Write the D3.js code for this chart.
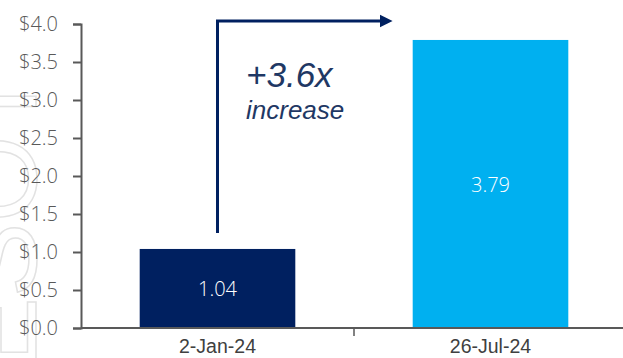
<!DOCTYPE html>
<head>
    <title>Increase chart</title>
    <script src='https://d3js.org/d3.v7.min.js'></script>
</head>
<style>
body {
  margin: 0;
  font-family: 'Liberation Sans', Arial, sans-serif;
}
</style>
<body>
    <svg></svg>
</body>
<script>
    var vWidth = 623;
    var vHeight = 358;

    // data
    var categories = ['2-Jan-24', '26-Jul-24'];
    var values = [1.04, 3.79];
    var barColors = ['#002060', '#00b0f0'];
    var yTicks = [0, 0.5, 1, 1.5, 2, 2.5, 3, 3.5, 4];
    var callout = ['+3.6x', 'increase'];

    var svg = d3.select('svg')
        .attr('width', vWidth)
        .attr('height', vHeight);

    // faint watermark in the left margin
    svg.append('text')
        .attr('transform', 'translate(36,372)rotate(-90)')
        .style('font-size', '112px')
        .style('fill', 'none')
        .style('stroke', '#e2e2e2')
        .style('stroke-width', 1.5)
        .text('ESOT');

    var x = d3.scaleBand()
        .domain(categories)
        .range([81, 627])
        .paddingInner(0.43)
        .paddingOuter(0.215);

    var y = d3.scaleLinear()
        .domain([0, 4])
        .range([328, 24]);

    // y axis
    var yAxis = svg.append('g')
        .attr('transform', 'translate(81,0)')
        .call(d3.axisLeft(y).tickValues(yTicks).tickSize(8).tickPadding(15)
            .tickFormat(function (d) { return '$' + d3.format('.1f')(d); }));
    yAxis.select('.domain').attr('stroke', '#595959').attr('stroke-width', 2);
    yAxis.selectAll('.tick line').attr('stroke', '#595959').attr('stroke-width', 2);
    yAxis.selectAll('.tick text')
        .attr('fill', '#595959')
        .style('font-family', "'Open Sans', sans-serif")
        .style('font-weight', 300)
        .style('font-size', '20px');

    // bars
    svg.selectAll('rect.bar').data(values).enter().append('rect')
        .attr('class', 'bar')
        .attr('x', function (d, i) { return x(categories[i]); })
        .attr('y', function (d) { return y(d); })
        .attr('width', x.bandwidth())
        .attr('height', function (d) { return y(0) - y(d); })
        .attr('fill', function (d, i) { return barColors[i]; });

    // value labels
    svg.selectAll('text.val').data(values).enter().append('text')
        .attr('class', 'val')
        .attr('x', function (d, i) { return x(categories[i]) + x.bandwidth() / 2; })
        .attr('y', function (d) { return (y(d) + y(0)) / 2 + 8; })
        .attr('text-anchor', 'middle')
        .attr('fill', '#ffffff')
        .style('font-family', "'Open Sans', sans-serif")
        .style('font-weight', 300)
        .style('font-size', '20px')
        .text(function (d) { return d3.format('.2f')(d); });

    // x axis
    var xAxis = svg.append('g')
        .attr('transform', 'translate(0,' + y(0) + ')');
    xAxis.append('line')
        .attr('x1', 81).attr('x2', vWidth)
        .attr('stroke', '#595959').attr('stroke-width', 2);
    xAxis.append('line')
        .attr('x1', x.step() + 81).attr('x2', x.step() + 81)
        .attr('y1', 0).attr('y2', 8)
        .attr('stroke', '#595959').attr('stroke-width', 1.5);
    xAxis.selectAll('text').data(categories).enter().append('text')
        .attr('x', function (d) { return x(d) + x.bandwidth() / 2; })
        .attr('y', 25)
        .attr('text-anchor', 'middle')
        .attr('fill', '#404040')
        .style('font-size', '19.5px')
        .text(function (d) { return d; });

    // callout arrow
    var ax = x(categories[0]) + x.bandwidth() / 2;
    var ay = y(4) - 3;
    svg.append('defs').append('marker')
        .attr('id', 'head')
        .attr('viewBox', '0 0 10 10')
        .attr('refX', 0).attr('refY', 5)
        .attr('markerWidth', 4.2).attr('markerHeight', 4.6)
        .attr('markerUnits', 'strokeWidth')
        .attr('orient', 'auto')
        .append('path').attr('d', 'M0,0L10,5L0,10Z').attr('fill', '#002060');
    svg.append('path')
        .attr('d', 'M' + ax + ',' + (y(values[0]) - 16) + 'V' + ay + 'H' + 380)
        .attr('fill', 'none')
        .attr('stroke', '#002060')
        .attr('stroke-width', 3)
        .attr('marker-end', 'url(#head)');

    svg.append('text')
        .attr('x', 246).attr('y', 87)
        .attr('fill', '#1f3864')
        .style('font-style', 'italic')
        .style('font-size', '35px')
        .text(callout[0]);
    svg.append('text')
        .attr('x', 246).attr('y', 119)
        .attr('fill', '#1f3864')
        .style('font-style', 'italic')
        .style('font-size', '26px')
        .text(callout[1]);
</script>
